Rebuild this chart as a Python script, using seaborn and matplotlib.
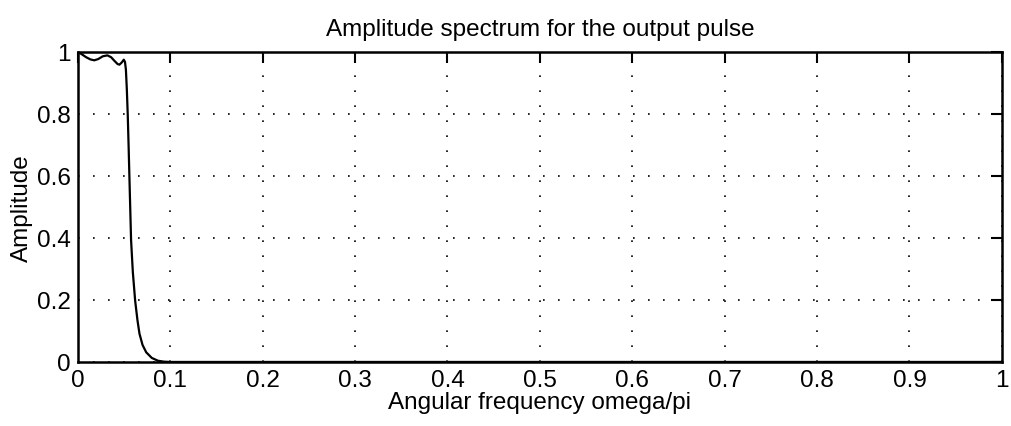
import matplotlib
matplotlib.use("Agg")
import matplotlib.pyplot as plt
import seaborn as sns
import pandas as pd

# Data
freq = [0.0, 0.004, 0.009, 0.0135, 0.0177, 0.022, 0.027, 0.032, 0.036, 0.040,
        0.043, 0.045, 0.0475, 0.0497, 0.051, 0.052, 0.053, 0.054, 0.0549,
        0.0558, 0.0567, 0.0576, 0.0595, 0.062, 0.0645, 0.0667, 0.070, 0.074,
        0.080, 0.0866, 0.093, 0.1, 0.2, 0.4, 0.6, 0.8, 1.0]
amp = [1.0, 0.993, 0.983, 0.976, 0.973, 0.977, 0.986, 0.989, 0.983, 0.970,
       0.961, 0.959, 0.966, 0.975, 0.968, 0.943, 0.88, 0.797, 0.70,
       0.597, 0.495, 0.393, 0.29, 0.198, 0.135, 0.091, 0.055, 0.031,
       0.013, 0.004, 0.001, 0.0, 0.0, 0.0, 0.0, 0.0, 0.0]
xticks = [0, 0.1, 0.2, 0.3, 0.4, 0.5, 0.6, 0.7, 0.8, 0.9, 1]
xticklabels = ["0", "0.1", "0.2", "0.3", "0.4", "0.5", "0.6", "0.7", "0.8", "0.9", "1"]
yticks = [0, 0.2, 0.4, 0.6, 0.8, 1]
yticklabels = ["0", "0.2", "0.4", "0.6", "0.8", "1"]

sns.set_theme(style="white")
plt.rcParams["font.family"] = ["Liberation Sans", "DejaVu Sans"]

df = pd.DataFrame({"freq": freq, "amp": amp})

FS = 17.5
fig = plt.figure(figsize=(10.11, 4.27), dpi=100)
ax = fig.add_axes([0.077, 0.150, 0.914, 0.726])
sns.lineplot(data=df, x="freq", y="amp", ax=ax, color="black", linewidth=1.6,
             sort=False)

ax.set_xlim(0, 1)
ax.set_ylim(0, 1)
ax.set_xticks(xticks)
ax.set_xticklabels(xticklabels)
ax.set_yticks(yticks)
ax.set_yticklabels(yticklabels)
ax.grid(True, color="black", linestyle=(0, (1, 8)), linewidth=1.2)
ax.tick_params(direction="in", length=8, width=1.5, top=True, right=True,
               labelsize=FS, colors="black", pad=5)
for s in ax.spines.values():
    s.set_visible(True)
    s.set_color("black")
    s.set_linewidth(1.8)

ax.set_xlabel("Angular frequency omega/pi", fontsize=FS, color="black", labelpad=0)
ax.set_ylabel("Amplitude", fontsize=FS, color="black", labelpad=3)
ax.set_title("Amplitude spectrum for the output pulse", fontsize=FS,
             color="black", pad=12)

fig.savefig("out.png", dpi=100)
